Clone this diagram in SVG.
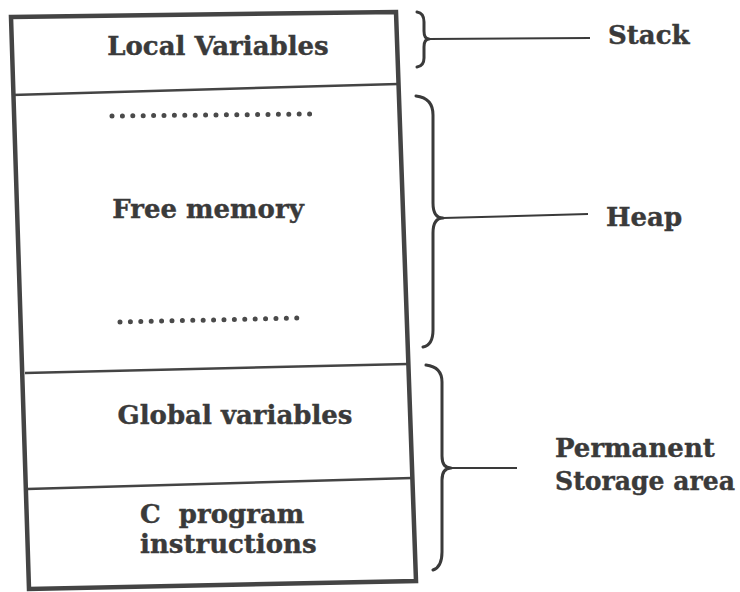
<svg xmlns="http://www.w3.org/2000/svg" width="740" height="592" viewBox="0 0 740 592">
<style>
.t{font-family:"DejaVu Serif","Liberation Serif",serif;font-weight:bold;font-size:26px;fill:#3a3a3a;stroke:#3a3a3a;stroke-width:0.4;}
.box{fill:none;stroke:#444;stroke-width:4.5;stroke-linejoin:miter;}
.div{stroke:#444;stroke-width:2.5;}
.dots{stroke:#4a4a4a;stroke-width:5;stroke-linecap:round;stroke-dasharray:0 10.4;}
.br{fill:none;stroke:#3a3a3a;stroke-width:3;stroke-linecap:round;stroke-linejoin:round;}
.ln{stroke:#3a3a3a;stroke-width:2;}
</style>
<rect width="740" height="592" fill="#fff"/>
<g id="memory">
<polygon class="box" points="11,17 396,12 416,581 29,589"/>
</g>
<g id="local">
<line class="div" x1="12" y1="95" x2="398" y2="84"/>
<text class="t" x="218" y="55" text-anchor="middle">Local Variables</text>
</g>
<g id="free">
<line class="dots" x1="112" y1="116" x2="310" y2="114"/>
<text class="t" x="208" y="218" text-anchor="middle">Free memory</text>
<line class="dots" x1="120" y1="322" x2="298" y2="318"/>
<line class="div" x1="25" y1="373" x2="408" y2="364"/>
</g>
<g id="global">
<text class="t" x="235" y="424" text-anchor="middle">Global variables</text>
<line class="div" x1="27" y1="489" x2="412" y2="478"/>
</g>
<g id="program">
<text class="t" x="140" y="523" xml:space="preserve">C  program</text>
<text class="t" x="140" y="553">instructions</text>
</g>
<g id="connectors">
<path class="br" d="M417 12 Q424 13 424 22 L424 31 Q424 39 429 39 Q424 39 424 47 L424 58 Q424 66 417 67"/>
<line class="ln" x1="429" y1="39" x2="590" y2="38"/>
<path class="br" d="M416 96 Q433 98 433 115 L433 203 Q433 218 443 218 Q433 218 433 233 L433 330 Q433 345 423 347"/>
<line class="ln" x1="443" y1="218" x2="588" y2="214"/>
<path class="br" d="M426 365 Q442 367 442 382 L442 456 Q442 468 451 468 Q442 468 442 480 L442 552 Q442 567 433 570"/>
<line class="ln" x1="451" y1="468" x2="517" y2="468"/>
</g>
<g id="stack">
<text class="t" x="608" y="44">Stack</text>
</g>
<g id="heap">
<text class="t" x="606" y="226">Heap</text>
</g>
<g id="permanent">
<text class="t" x="555" y="457">Permanent</text>
<text class="t" x="555" y="490" textLength="180" lengthAdjust="spacingAndGlyphs">Storage area</text>
</g>
</svg>
